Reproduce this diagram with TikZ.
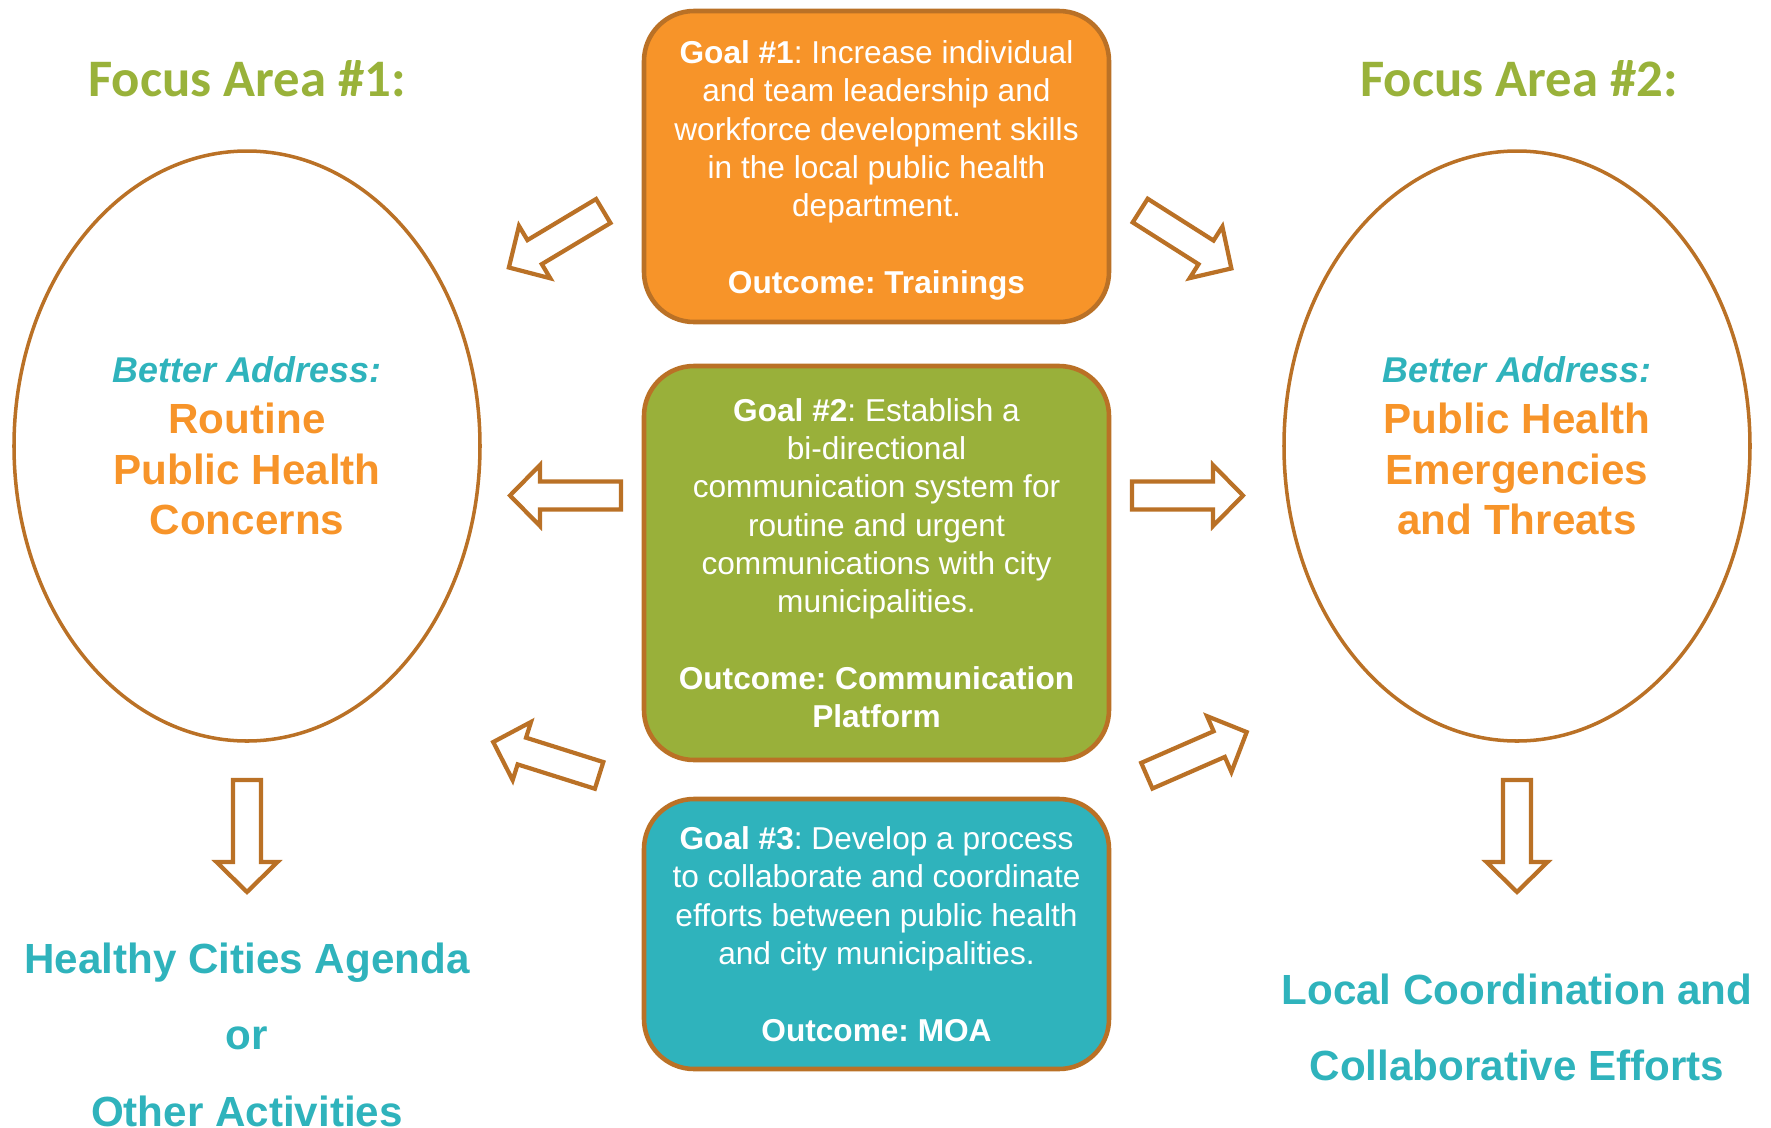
\documentclass[tikz,border=0pt]{standalone}
\usepackage{fontspec}
\setmainfont{Liberation Sans}
\newfontfamily\calibri{Carlito}
\usetikzlibrary{positioning,shapes.geometric}
\frenchspacing

\definecolor{rimbrown}{RGB}{186,113,38}
\definecolor{goalorange}{RGB}{247,148,41}
\definecolor{goalgreen}{RGB}{153,176,58}
\definecolor{goalteal}{RGB}{47,179,188}
\definecolor{titlegreen}{RGB}{153,178,58}

\tikzset{
  goalbox/.style={draw=rimbrown, line width=1.3pt, rounded corners=0.5cm, minimum width=4.65cm,
    text=white, align=center, font=\fontsize{9}{10.9}\selectfont, inner sep=0pt},
  focusarea/.style={draw=rimbrown, line width=1pt, ellipse, minimum width=4.66cm, minimum height=5.9cm,
    align=center, text=goalorange, font=\bfseries\fontsize{12}{14.4}\selectfont},
  areatitle/.style={text=titlegreen, font=\calibri\bfseries\fontsize{15}{18}\selectfont, inner sep=0pt, anchor=base},
  result/.style={text=goalteal, align=center, font=\bfseries\fontsize{12}{21.8}\selectfont, inner sep=0pt, anchor=north},
  blockarr/.style={draw=rimbrown, line width=1.2pt, fill=white}
}

\begin{document}
\begin{tikzpicture}
\useasboundingbox (0,0) rectangle (17.71,-11.28);

% focus areas
\node[areatitle] (title1) at (2.47,-0.96) {Focus Area \#1:};
\node[areatitle] (title2) at (15.19,-0.96) {Focus Area \#2:};
\node[focusarea] (area1) at (2.47,-4.46) {{\itshape\fontsize{10.2}{12}\selectfont\color{goalteal}Better Address:}\\Routine\\Public Health\\Concerns};
\node[focusarea] (area2) at (15.17,-4.46) {{\itshape\fontsize{10.2}{12}\selectfont\color{goalteal}Better Address:}\\Public Health\\Emergencies\\and Threats};

% goals
\node[goalbox, fill=goalorange, minimum height=3.11cm] (goal1) at (8.765,-1.665)
  {\rule{0pt}{8.7pt}\textbf{Goal \#1}: Increase individual\\and team leadership and\\workforce development skills\\in the local public health\\department.\\~\\\textbf{Outcome: Trainings}};
\node[goalbox, fill=goalgreen, minimum height=3.94cm] (goal2) at (8.765,-5.63)
  {\textbf{Goal \#2}: Establish a\\bi-directional\\communication system for\\routine and urgent\\communications with city\\municipalities.\\~\\\textbf{Outcome: Communication}\\\textbf{Platform}};
\node[goalbox, fill=goalteal, minimum height=2.70cm] (goal3) at (8.765,-9.34)
  {\textbf{Goal \#3}: Develop a process\\to collaborate and coordinate\\efforts between public health\\and city municipalities.\\~\\\textbf{Outcome: MOA}};

% block arrows
\foreach \x/\y/\a/\l in {6.05/-2.10/210.9/1.15, 6.23/-4.955/180/1.16, 6.01/-7.76/162.5/1.16,
    11.385/-2.095/-32.4/1.13, 11.30/-4.955/0/1.16, 11.45/-7.765/23.6/1.14,
    2.47/-7.78/-90/1.17, 15.17/-7.78/-90/1.17}
  \draw[blockarr, shift={(\x,\y)}, rotate=\a] (0.02,-0.14) -- ({\l-0.33},-0.14) -- ({\l-0.33},-0.305)
    -- ({\l-0.03},0) -- ({\l-0.33},0.305) -- ({\l-0.33},0.14) -- (0.02,0.14) -- cycle;

% results
\node[result] (res1) at (2.47,-9.42) {Healthy Cities Agenda\\or\\Other Activities};
\node[result] (res2) at (15.17,-9.73) {Local Coordination and\\Collaborative Efforts};
\end{tikzpicture}
\end{document}
